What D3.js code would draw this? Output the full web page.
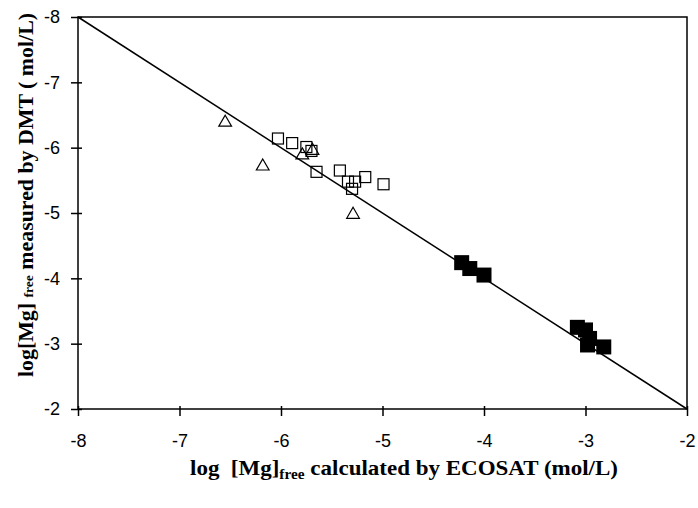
<!DOCTYPE html>
<html>
<head>
<meta charset="utf-8">
<script src="https://cdn.jsdelivr.net/npm/d3@7"></script>
<style>
  body { margin: 0; background: #fff; }
  .tick text { font-family: "Liberation Sans", Arial, sans-serif; font-size: 18px; fill: #000; }
  .title { font-family: "Liberation Serif", "Times New Roman", serif; font-weight: bold; font-size: 21px; fill: #000; }
</style>
</head>
<body>
<div id="vis"></div>
<script>
// ticks
const xTicks = [-8, -7, -6, -5, -4, -3, -2];
const yTicks = [-8, -7, -6, -5, -4, -3, -2];

// open triangles: [ECOSAT, DMT]
const triX = [-6.55, -6.18, -5.79, -5.69, -5.29];
const triY = [-6.40, -5.73, -5.90, -5.97, -4.99];

// open squares
const sqX = [-6.03, -5.89, -5.75, -5.70, -5.65, -5.42, -5.34, -5.27, -5.30, -5.17, -4.99];
const sqY = [-6.14, -6.07, -6.01, -5.95, -5.63, -5.65, -5.48, -5.48, -5.37, -5.55, -5.44];

// filled squares
const fillX = [-4.22, -4.14, -4.00, -3.08, -3.00, -2.96, -2.98, -2.82];
const fillY = [-4.24, -4.15, -4.05, -3.25, -3.21, -3.08, -2.98, -2.95];

// 1:1 line
const lineX = [-8, -2];
const lineY = [-8, -2];

const margin = {top: 17, right: 11, bottom: 99, left: 78};
const width = 698 - margin.left - margin.right;
const height = 508 - margin.top - margin.bottom;

const root = d3.select('#vis')
  .append('svg')
  .attr('width', 698)
  .attr('height', 508);

const svg = root.append('g')
  .attr('transform', `translate(${margin.left},${margin.top})`);

const xScale = d3.scaleLinear().domain([-8, -2]).range([0, width]);
const yScale = d3.scaleLinear().domain([-8, -2]).range([0, height]);

// frame
svg.append('rect')
  .attr('width', width).attr('height', height)
  .attr('fill', 'none').attr('stroke', '#000').attr('stroke-width', 1.5);

const fmt = d => String(d); // plain hyphen, like the original

const xAxis = d3.axisBottom(xScale).tickValues(xTicks).tickFormat(fmt).tickSize(7).tickSizeOuter(0).tickPadding(18);
svg.append('g')
  .attr('transform', `translate(0,${height})`)
  .call(xAxis)
  .call(g => g.select('.domain').remove())
  .call(g => g.selectAll('.tick line').attr('y1', -3).attr('stroke-width', 1.5));

const yAxis = d3.axisLeft(yScale).tickValues(yTicks).tickFormat(fmt).tickSize(7).tickSizeOuter(0).tickPadding(11);
svg.append('g')
  .call(yAxis)
  .call(g => g.select('.domain').remove())
  .call(g => g.selectAll('.tick line').attr('x1', 4).attr('stroke-width', 1.5));

// 1:1 line
svg.append('line')
  .attr('x1', xScale(lineX[0])).attr('y1', yScale(lineY[0]))
  .attr('x2', xScale(lineX[1])).attr('y2', yScale(lineY[1]))
  .attr('stroke', '#000').attr('stroke-width', 1.5);

const tri = d3.symbol().type(d3.symbolTriangle).size(70);

svg.selectAll('.tri')
  .data(triX.map((x, i) => ({x, y: triY[i]})))
  .join('path')
  .attr('class', 'tri')
  .attr('d', tri)
  .attr('transform', d => `translate(${xScale(d.x)},${yScale(d.y) + 1})`)
  .attr('fill', 'none').attr('stroke', '#000').attr('stroke-width', 1.2);

const s = 11;
svg.selectAll('.sq')
  .data(sqX.map((x, i) => ({x, y: sqY[i]})))
  .join('rect')
  .attr('class', 'sq')
  .attr('x', d => xScale(d.x) - s / 2)
  .attr('y', d => yScale(d.y) - s / 2)
  .attr('width', s).attr('height', s)
  .attr('fill', 'none').attr('stroke', '#000').attr('stroke-width', 1.2);

const f = 15;
svg.selectAll('.fill')
  .data(fillX.map((x, i) => ({x, y: fillY[i]})))
  .join('rect')
  .attr('class', 'fill')
  .attr('x', d => xScale(d.x) - f / 2)
  .attr('y', d => yScale(d.y) - f / 2)
  .attr('width', f).attr('height', f)
  .attr('fill', '#000');

// axis titles
const xt = root.append('text')
  .attr('class', 'title')
  .attr('x', 404).attr('y', 475)
  .attr('text-anchor', 'middle')
  .attr('font-size', 22)
  .attr('textLength', 428)
  .attr('lengthAdjust', 'spacingAndGlyphs');
xt.append('tspan').text('log\u00a0\u00a0[Mg]');
xt.append('tspan').attr('font-size', 14).attr('dy', 4).text('free');
xt.append('tspan').attr('dy', -4).text(' calculated by ECOSAT (mol/L)');

const yt = root.append('text')
  .attr('class', 'title')
  .attr('transform', 'translate(33,195) rotate(-90)')
  .attr('text-anchor', 'middle')
  .attr('textLength', 364)
  .attr('lengthAdjust', 'spacingAndGlyphs');
yt.append('tspan').text('log[Mg] ');
yt.append('tspan').attr('font-size', 13).text('free');
yt.append('tspan').text(' measured by DMT ( mol/L)');
</script>
</body>
</html>
